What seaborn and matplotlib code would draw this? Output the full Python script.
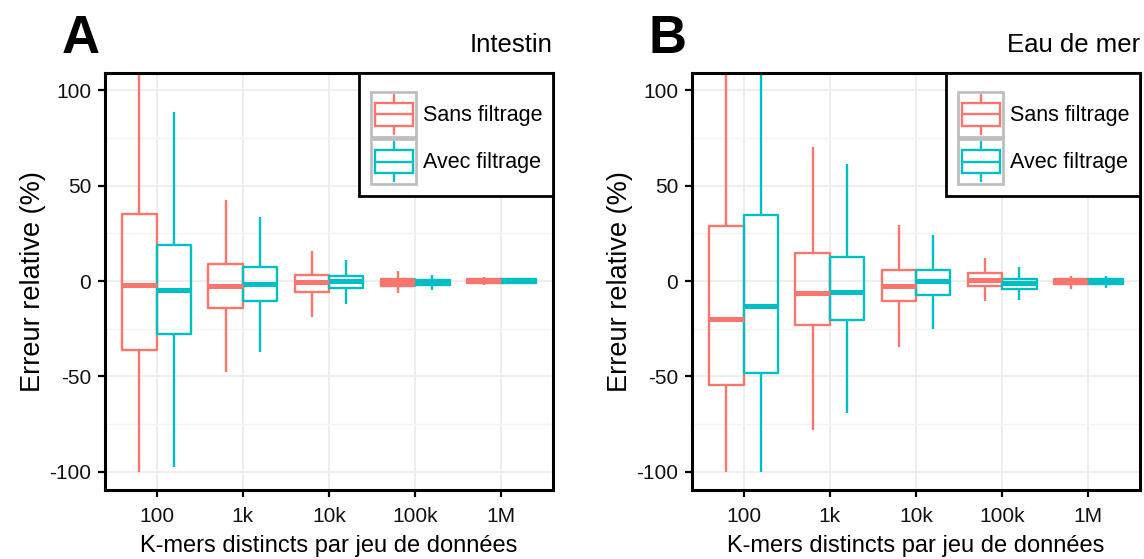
import numpy as np
import pandas as pd
import matplotlib
matplotlib.use("Agg")
import matplotlib.pyplot as plt
import seaborn as sns
from matplotlib.legend_handler import HandlerBase
from matplotlib.patches import Rectangle, Patch
from matplotlib.lines import Line2D

# categories
categories = ["100", "1k", "10k", "100k", "1M"]
groups = ["Sans filtrage", "Avec filtrage"]
colors = ["#F8766D", "#00BFC4"]

# Panel A (Intestin) - min, q1, median, q3, max
a_sans_min = [-100, -47.6, -18.8, -6.3, -2.3]
a_sans_q1 = [-35.9, -14.1, -5.9, -2.4, -1.2]
a_sans_med = [-1.9, -2.4, -0.7, -0.3, -0.2]
a_sans_q3 = [35.2, 9.1, 3.3, 1.2, 0.9]
a_sans_max = [150, 42.5, 15.9, 5.1, 2.1]

a_avec_min = [-97.2, -37.1, -11.8, -4.5, -1.6]
a_avec_q1 = [-28.0, -10.6, -3.7, -2.1, -1.2]
a_avec_med = [-4.9, -1.6, -0.2, -0.7, 0.0]
a_avec_q3 = [19.0, 7.3, 2.4, 0.7, 1.0]
a_avec_max = [88.7, 33.8, 10.8, 3.0, 1.6]

# Panel B (Eau de mer)
b_sans_min = [-100, -78.2, -34.5, -10.6, -4.0]
b_sans_q1 = [-54.7, -23.2, -10.5, -2.4, -1.7]
b_sans_med = [-19.9, -6.3, -2.4, 0.5, -0.3]
b_sans_q3 = [28.6, 14.8, 5.7, 4.0, 0.9]
b_sans_max = [150, 70.4, 29.4, 12.2, 2.8]

b_avec_min = [-100, -69.3, -25.1, -10.1, -3.7]
b_avec_q1 = [-48.4, -20.2, -7.3, -4.0, -1.6]
b_avec_med = [-13.2, -5.7, 0.0, -1.0, -0.2]
b_avec_q3 = [34.7, 12.7, 5.7, 1.2, 1.0]
b_avec_max = [150, 61.5, 24.0, 7.3, 2.6]


def build_df(sans, avec):
    # 5 points par boite -> quartiles exacts avec percentile lineaire
    rows = []
    for grp, stats in zip(groups, [sans, avec]):
        for i, cat in enumerate(categories):
            for s in stats:
                rows.append({"k": cat, "groupe": grp, "err": s[i]})
    return pd.DataFrame(rows)


df_a = build_df([a_sans_min, a_sans_q1, a_sans_med, a_sans_q3, a_sans_max],
                [a_avec_min, a_avec_q1, a_avec_med, a_avec_q3, a_avec_max])
df_b = build_df([b_sans_min, b_sans_q1, b_sans_med, b_sans_q3, b_sans_max],
                [b_avec_min, b_avec_q1, b_avec_med, b_avec_q3, b_avec_max])


class BoxHandler(HandlerBase):
    def create_artists(self, legend, orig_handle, xdescent, ydescent,
                       width, height, fontsize, trans):
        c = orig_handle.get_edgecolor()
        x0, y0 = -xdescent, -ydescent
        bg = Rectangle((x0 + 1, y0 + 1), width - 2, height - 2, facecolor="white",
                       edgecolor="#BEBEBE", lw=2, transform=trans)
        bx = Rectangle((x0 + width * 0.1, y0 + height * 0.25), width * 0.8, height * 0.5,
                       facecolor="none", edgecolor=c, lw=1.7, transform=trans)
        med = Line2D([x0 + width * 0.1, x0 + width * 0.9], [y0 + height / 2] * 2,
                     color=c, lw=1.7, transform=trans)
        w1 = Line2D([x0 + width / 2] * 2, [y0 + height * 0.08, y0 + height * 0.25],
                    color=c, lw=1.7, transform=trans)
        w2 = Line2D([x0 + width / 2] * 2, [y0 + height * 0.75, y0 + height * 0.92],
                    color=c, lw=1.7, transform=trans)
        return [bg, bx, med, w1, w2]


sns.set_theme(style="white")
plt.rcParams["font.family"] = ["Liberation Sans", "DejaVu Sans"]
plt.rcParams["axes.unicode_minus"] = False
plt.rcParams["text.color"] = "black"
plt.rcParams["axes.labelcolor"] = "black"

fig = plt.figure(figsize=(11.44, 5.59), dpi=100)
ax_a = fig.add_axes([105 / 1144, 69 / 559, 448 / 1144, 417 / 559])
ax_b = fig.add_axes([692 / 1144, 69 / 559, 448 / 1144, 417 / 559])

for ax, df, letter, titre in [(ax_a, df_a, "A", "Intestin"), (ax_b, df_b, "B", "Eau de mer")]:
    ax.set_axisbelow(True)
    sns.boxplot(data=df, x="k", y="err", hue="groupe", order=categories,
                hue_order=groups, palette=colors, saturation=1, fill=False,
                dodge=True, width=0.8, gap=0, whis=(0, 100), linewidth=1.7,
                showcaps=False, medianprops={"linewidth": 3.6},
                legend=False, ax=ax)
    ax.set_ylim(-109.5, 109)
    ax.set_xlim(-0.6, 4.6)
    ax.set_yticks([-100, -50, 0, 50, 100])
    ax.set_yticks([-75, -25, 25, 75], minor=True)
    ax.grid(True, which="major", color="#EBEBEB", lw=1.2)
    ax.grid(True, which="minor", axis="y", color="#F4F4F4", lw=1.0)
    for sp in ax.spines.values():
        sp.set_visible(True)
        sp.set_color("black")
        sp.set_linewidth(2.2)
    ax.tick_params(axis="both", which="major", direction="out", length=5, width=1.6,
                   color="black", labelcolor="#111111", left=True, bottom=True)
    ax.tick_params(axis="y", labelsize=15, pad=5)
    ax.tick_params(axis="x", labelsize=15, pad=7)
    ax.tick_params(axis="y", which="minor", left=False)
    ax.set_xlabel("K-mers distincts par jeu de données", fontsize=17, labelpad=7)
    ax.set_ylabel("Erreur relative (%)", fontsize=19.5, labelpad=2)
    ax.text(-43 / 448, 1 + 20 / 417, letter, transform=ax.transAxes,
            fontsize=38, fontweight="bold", ha="left", va="baseline")
    ax.text(1.0, 1 + 21 / 417, titre, transform=ax.transAxes,
            fontsize=18.5, ha="right", va="baseline")

    handles = [Patch(facecolor="none", edgecolor=c, label=g) for g, c in zip(groups, colors)]
    leg = ax.legend(handles=handles, handler_map={Patch: BoxHandler()},
                    loc="upper right", bbox_to_anchor=(1.0, 1.0), borderaxespad=0,
                    fontsize=15.5, handlelength=2.2, handleheight=3.0,
                    labelspacing=0, handletextpad=0.25, borderpad=0.5,
                    title=" ", title_fontsize=5,
                    fancybox=False, framealpha=1, edgecolor="black")
    leg.get_frame().set_linewidth(2)

fig.savefig("out.png", dpi=100)
